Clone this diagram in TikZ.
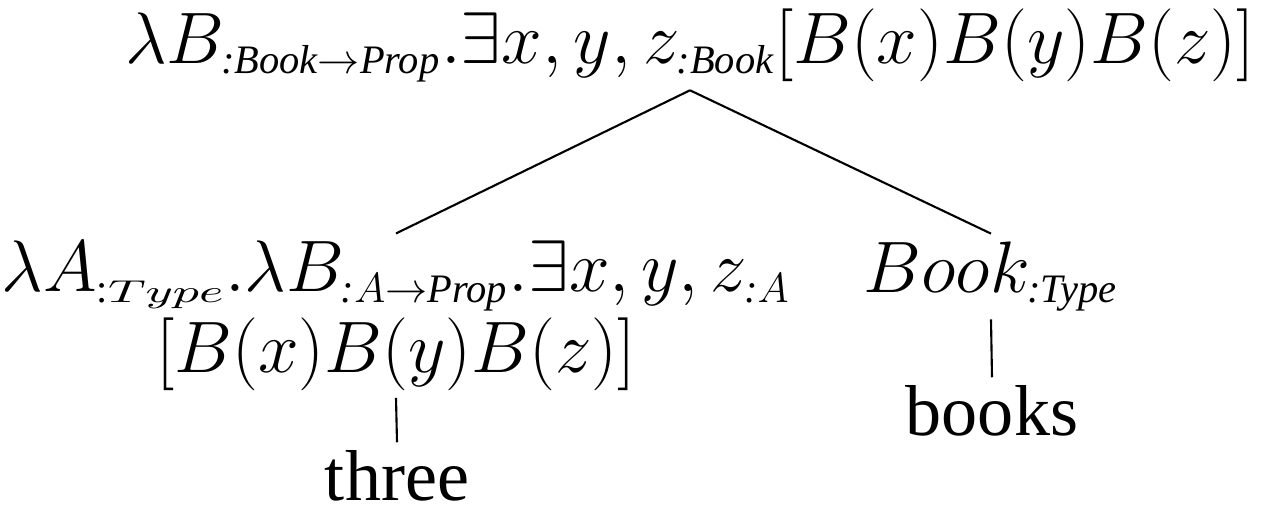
\documentclass[tikz,border=0pt]{standalone}
\usepackage{amsmath}
\usepackage{graphicx}
\usepackage[no-math]{fontspec}
\setmainfont{Liberation Serif}[Ligatures=TeX]
\usepackage{tikz}
\usetikzlibrary{positioning}

% type names in subscripts are set in small text italic
\newcommand{\ty}[1]{\text{\fontsize{11.5}{12}\selectfont\itshape #1}}
% the wide math-italic Type of the determiner
\newcommand{\wtype}{\text{\fontsize{11.5}{12}\selectfont :\fontsize{9}{10}\selectfont\scalebox{1.6}[1]{$Type$}}}

\begin{document}
\begin{tikzpicture}[x=0.01cm, y=-0.01cm,
  term/.style={inner sep=2pt, font=\fontsize{20.5}{22.8}\selectfont},
  branch/.style={line width=0.6pt}]
\useasboundingbox (0,0) rectangle (1272,505);

% Root of the tree
\node[term, anchor=base] (root) at (690,63)
  {$\lambda B_{\ty{:Book$\mathord{\rightarrow}$Prop}}.\exists x,y,z_{\ty{:Book}}[B(x)B(y)B(z)]$};

% Daughters
\node[term, anchor=base, align=center] (three-sem) at (396,372)
  {$\lambda A_{\wtype}.\lambda B_{\ty{:$A\mathord{\rightarrow}$Prop}}.\exists x,y,z_{\ty{:$A$}}$\\
   $[B(x)B(y)B(z)]$};
\node[term, anchor=base] (book-sem) at (991,292) {$Book_{\ty{:Type}}$};

% Words
\node[term, anchor=base] (three) at (397,500) {three};
\node[term, anchor=base] (books) at (992,435) {books};

% Branches
\draw[branch] (root.south) -- (three-sem.north);
\draw[branch] (root.south) -- (book-sem.north);
\draw[branch] (three-sem.south) -- (three.north);
\draw[branch] (book-sem.south) -- (books.north);

\end{tikzpicture}
\end{document}
